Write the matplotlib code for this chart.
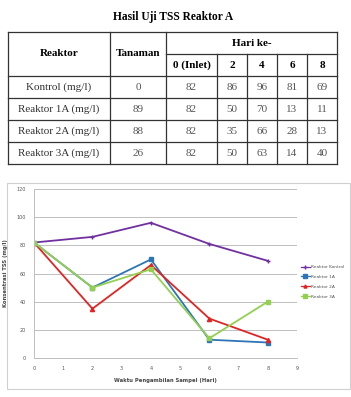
import matplotlib

matplotlib.use("Agg")

import matplotlib.pyplot as plt
from matplotlib.patches import Rectangle

W, H = 351, 397

# ---------------------------------------------------------------------------
# Data
# ---------------------------------------------------------------------------
title = "Hasil Uji TSS Reaktor A"
row_names = ["Kontrol (mg/l)", "Reaktor 1A (mg/l)", "Reaktor 2A (mg/l)", "Reaktor 3A (mg/l)"]
tanaman = [0, 89, 88, 26]
day_headers = ["0 (Inlet)", "2", "4", "6", "8"]
days = [0, 2, 4, 6, 8]
kontrol = [82, 86, 96, 81, 69]
reaktor_1a = [82, 50, 70, 13, 11]
reaktor_2a = [82, 35, 66, 28, 13]
reaktor_3a = [82, 50, 63, 14, 40]

series = [
    ("Reaktor Kontrol", kontrol, "#7030A0", "+"),
    ("Reaktor 1A", reaktor_1a, "#2E75B6", "s"),
    ("Reaktor 2A", reaktor_2a, "#E02424", "^"),
    ("Reaktor 3A", reaktor_3a, "#92D050", "s"),
]

fig = plt.figure(figsize=(W / 100, H / 100), dpi=100)
fig.patch.set_facecolor("white")

# ---------------------------------------------------------------------------
# Table (pixel coordinates on an overlay axes)
# ---------------------------------------------------------------------------
bg = fig.add_axes([0, 0, 1, 1])
bg.set_xlim(0, W)
bg.set_ylim(H, 0)
bg.axis("off")

serif = "Liberation Serif"
bg.text(173, 17, title, ha="center", va="center", fontsize=8.3,
        fontweight="bold", family=serif)

cols = [8, 110, 166, 217, 247, 277, 307, 337]
rows = [32, 54, 76, 98, 120, 142, 164]
lw = 0.9
c = "#333333"
# outer frame + horizontal lines
bg.plot([cols[0], cols[-1]], [rows[0], rows[0]], color=c, lw=lw)
bg.plot([cols[2], cols[-1]], [rows[1], rows[1]], color=c, lw=lw)
for y in rows[2:]:
    bg.plot([cols[0], cols[-1]], [y, y], color=c, lw=lw)
for x in [cols[0], cols[1], cols[2], cols[-1]]:
    bg.plot([x, x], [rows[0], rows[-1]], color=c, lw=lw)
for x in cols[3:-1]:
    bg.plot([x, x], [rows[1], rows[-1]], color=c, lw=lw)

fs = 8
bg.text((cols[0] + cols[1]) / 2, (rows[0] + rows[2]) / 2, "Reaktor",
        ha="center", va="center", fontsize=fs, fontweight="bold", family=serif)
bg.text((cols[1] + cols[2]) / 2, (rows[0] + rows[2]) / 2, "Tanaman",
        ha="center", va="center", fontsize=fs, fontweight="bold", family=serif)
bg.text((cols[2] + cols[-1]) / 2, (rows[0] + rows[1]) / 2, "Hari ke-",
        ha="center", va="center", fontsize=fs, fontweight="bold", family=serif)
for j, hdr in enumerate(day_headers):
    bg.text((cols[2 + j] + cols[3 + j]) / 2, (rows[1] + rows[2]) / 2, hdr,
            ha="center", va="center", fontsize=fs, fontweight="bold", family=serif)

table_vals = [kontrol, reaktor_1a, reaktor_2a, reaktor_3a]
for i, name in enumerate(row_names):
    yc = (rows[2 + i] + rows[3 + i]) / 2
    bg.text((cols[0] + cols[1]) / 2, yc, name, ha="center", va="center",
            fontsize=fs, family=serif, color="#333333")
    bg.text((cols[1] + cols[2]) / 2, yc, str(tanaman[i]), ha="center",
            va="center", fontsize=fs, family=serif, color="#555555")
    for j, v in enumerate(table_vals[i]):
        bg.text((cols[2 + j] + cols[3 + j]) / 2, yc, str(v), ha="center",
                va="center", fontsize=fs, family=serif, color="#555555")

# chart frame
bg.add_patch(Rectangle((7, 183), 343, 206, fill=False, ec="#d0d0d0", lw=0.8))

# ---------------------------------------------------------------------------
# Line chart
# ---------------------------------------------------------------------------
ax = fig.add_axes([34 / W, (H - 358) / H, (297 - 34) / W, (358 - 189) / H])
for label, vals, colour, marker in series:
    ax.plot(days, vals, color=colour, lw=1.3, marker=marker, markersize=3,
            markeredgewidth=1.0, label=label)

ax.set_xlim(0, 9)
ax.set_ylim(0, 120)
ax.set_xticks(range(10))
ax.set_yticks(range(0, 121, 20))
ax.grid(axis="y", color="#bfbfbf", lw=0.7)
ax.set_axisbelow(True)
for side in ["top", "right"]:
    ax.spines[side].set_visible(False)
ax.spines["left"].set_color("#bfbfbf")
ax.spines["bottom"].set_color("#bfbfbf")
ax.spines["left"].set_linewidth(0.7)
ax.spines["bottom"].set_linewidth(0.7)
ax.tick_params(labelsize=3.5, length=0, pad=6, colors="#555555")
ax.set_xlabel("Waktu Pengambilan Sampel (Hari)", fontsize=3.8,
              fontweight="bold", color="#444444", labelpad=5)
ax.set_ylabel("Konsentrasi TSS (mg/l)", fontsize=3.8, fontweight="bold",
              color="#444444", labelpad=6)

leg = ax.legend(loc="upper left", bbox_to_anchor=(301 / W, (H - 265) / H),
                bbox_transform=fig.transFigure, frameon=False,
                fontsize=3.2, handlelength=2.0, handletextpad=0.3,
                labelspacing=1.3, borderpad=0, borderaxespad=0,
                labelcolor="#555555")
for line in leg.get_lines():
    line.set_linewidth(0.9)
    line.set_markersize(2.2)

fig.savefig("out.png", dpi=100)
